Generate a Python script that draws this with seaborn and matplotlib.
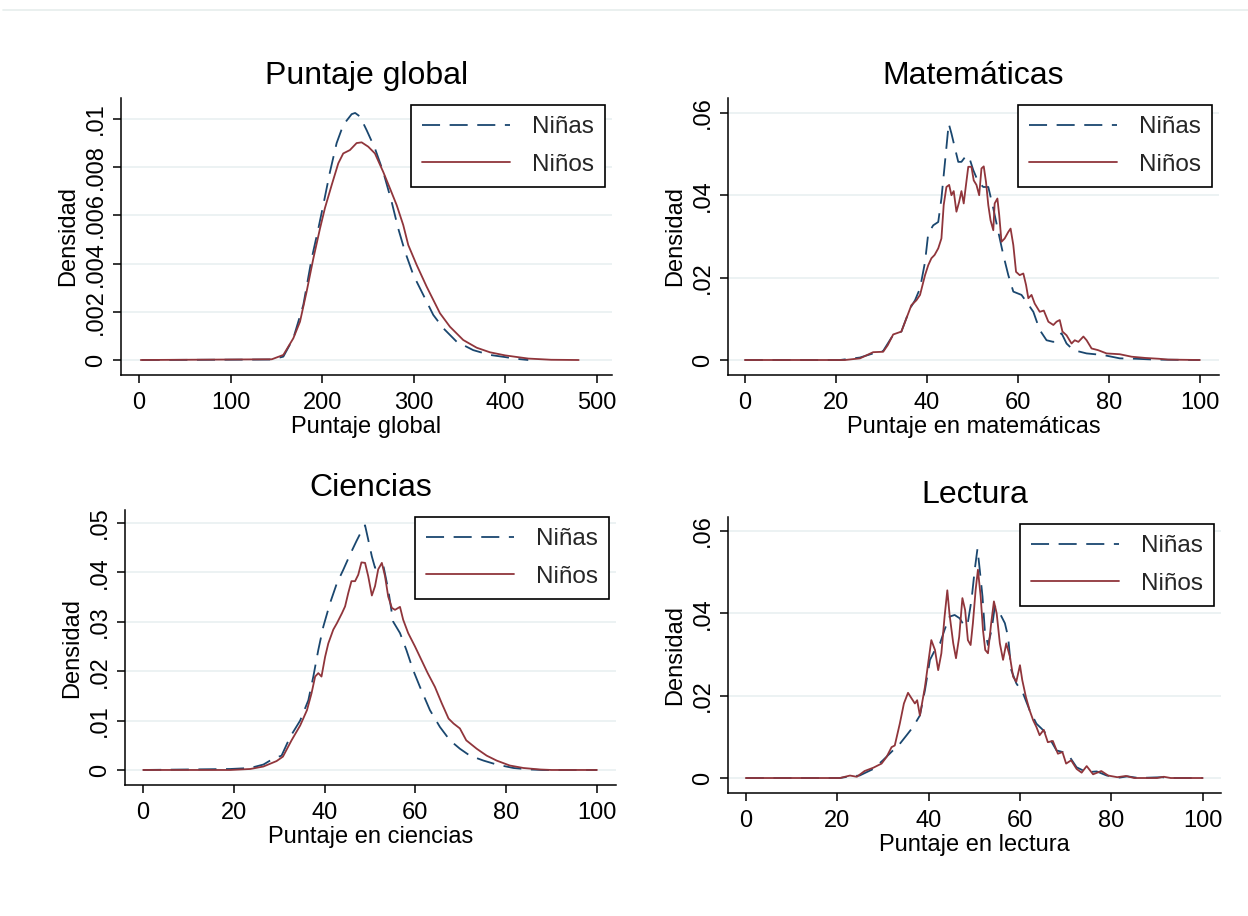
import matplotlib
matplotlib.use("Agg")
import matplotlib.pyplot as plt
import seaborn as sns
from matplotlib.lines import Line2D
from matplotlib.ticker import FixedLocator, FixedFormatter

# ---------------- DATA ----------------
series_labels = ["Niñas", "Niños"]
panel_titles = ["Puntaje global", "Matemáticas", "Ciencias", "Lectura"]
x_labels = ["Puntaje global", "Puntaje en matemáticas", "Puntaje en ciencias", "Puntaje en lectura"]
y_label = "Densidad"

global_xticks = [0, 100, 200, 300, 400, 500]
global_yticks = [0, 0.002, 0.004, 0.006, 0.008, 0.01]
global_ytick_labels = ["0", ".002", ".004", ".006", ".008", ".01"]
pct_xticks = [0, 20, 40, 60, 80, 100]
mat_yticks = [0, 0.02, 0.04, 0.06]
mat_ytick_labels = ["0", ".02", ".04", ".06"]
cie_yticks = [0, 0.01, 0.02, 0.03, 0.04, 0.05]
cie_ytick_labels = ["0", ".01", ".02", ".03", ".04", ".05"]
lec_yticks = [0, 0.02, 0.04, 0.06]
lec_ytick_labels = ["0", ".02", ".04", ".06"]

# Puntaje global
glob_x_ninas = [3, 145, 157.6, 168.5, 179.4, 188.5, 195.8, 201.2, 208.5, 215.8, 223, 232.2, 236, 241.3,
                248.5, 257.6, 266.7, 275.8, 283, 290.4, 299.5, 310.4, 321.3, 332.2, 346.8, 364.9, 383.2,
                400, 412, 425]
glob_y_ninas = [0, 0.00002, 0.00014, 0.0009, 0.00228, 0.0042, 0.00545, 0.00643, 0.0078, 0.0090, 0.00975,
                0.0102, 0.01025, 0.0101, 0.00954, 0.00878, 0.0078, 0.00657, 0.00546, 0.0045, 0.00353,
                0.0027, 0.00187, 0.00132, 0.00076, 0.00041, 0.00021, 0.00012, 0.00005, 0]
glob_x_ninos = [2, 145, 157.6, 168.5, 175.8, 183, 190.3, 197.6, 203, 210.4, 217.6, 223, 230.3, 237.6,
                243.1, 250.3, 257.6, 266.7, 274, 281.3, 288.5, 294, 303.2, 314.1, 328.6, 339.5, 354,
                368.7, 383.2, 400, 425, 450, 480]
glob_y_ninos = [0, 0.00003, 0.00021, 0.0009, 0.00159, 0.00283, 0.0042, 0.00545, 0.0063, 0.00726, 0.00816,
                0.00857, 0.00871, 0.0090, 0.00903, 0.00885, 0.00857, 0.0078, 0.00712, 0.00643, 0.0056,
                0.00477, 0.00394, 0.00304, 0.00194, 0.00138, 0.00083, 0.00051, 0.00032, 0.00019,
                0.00006, 0.00001, 0]

# Matemáticas
mat_x_ninas = [0, 20.9, 25.3, 28.2, 30.4, 32.6, 34.4, 36.3, 37.4, 38.5, 39.6, 40.3, 41.4, 42.5, 43.2,
               44.2, 44.8, 45.4, 46.2, 46.9, 47.6, 48.7, 49.5, 50.2, 51.3, 52.4, 53.5, 54.6, 55.7,
               56.8, 57.9, 59.0, 60.8, 61.9, 63.4, 64.8, 66.3, 67.8, 69.6, 70.7, 72.2, 75.1, 78.8,
               82.4, 86, 90, 100]
mat_y_ninas = [0, 0, 0.0006, 0.0016, 0.0022, 0.0061, 0.0069, 0.0125, 0.0145, 0.0174, 0.0238, 0.0307,
               0.0327, 0.0335, 0.0392, 0.0505, 0.0574, 0.055, 0.0513, 0.0481, 0.0481, 0.0497, 0.0485,
               0.0461, 0.0432, 0.042, 0.042, 0.0368, 0.0311, 0.0255, 0.0206, 0.0166, 0.0158, 0.0141,
               0.0117, 0.0073, 0.0048, 0.0044, 0.0065, 0.004, 0.0024, 0.0016, 0.0012, 0.0004, 0.0003,
               0.0001, 0]
mat_x_ninos = [0, 22, 25.3, 28.2, 30.4, 31.4, 32.6, 34.4, 35.5, 36.6, 37.7, 38.5, 39.6, 40.3, 41.0,
               41.7, 42.5, 43.2, 43.7, 44.3, 44.9, 45.4, 45.9, 46.5, 47.1, 47.6, 48.1, 48.6, 49.1,
               49.8, 50.3, 50.9, 51.5, 52.0, 52.5, 53.0, 53.5, 54.0, 54.6, 54.9, 55.5, 55.9, 56.4,
               57.1, 57.9, 58.4, 59.0, 59.6, 60.4, 61.2, 61.8, 62.3, 63.0, 63.7, 64.8, 65.7, 66.7,
               67.8, 68.5, 69.2, 69.8, 70.7, 71.8, 72.5, 73.3, 74.4, 75.1, 76.2, 77.6, 79.5, 82.4,
               85, 88, 91, 93, 100]
mat_y_ninos = [0, 0, 0.0004, 0.0019, 0.002, 0.0036, 0.0062, 0.0069, 0.0101, 0.0133, 0.0145, 0.0158,
               0.0206, 0.023, 0.0247, 0.0255, 0.0271, 0.0295, 0.0376, 0.042, 0.0425, 0.04, 0.041,
               0.036, 0.0384, 0.041, 0.038, 0.0425, 0.0469, 0.0469, 0.0436, 0.0425, 0.04, 0.0465,
               0.047, 0.0432, 0.0376, 0.0339, 0.0315, 0.038, 0.0392, 0.0352, 0.0287, 0.0295, 0.0311,
               0.0319, 0.0279, 0.0214, 0.0206, 0.021, 0.0182, 0.015, 0.0158, 0.0137, 0.0117, 0.012,
               0.0093, 0.0085, 0.0093, 0.0097, 0.0069, 0.006, 0.004, 0.0048, 0.0044, 0.0057, 0.0048,
               0.0028, 0.0024, 0.0016, 0.0014, 0.0008, 0.0005, 0.0003, 0.0001, 0]

# Ciencias
cie_x_ninas = [0, 19.2, 23.6, 26.5, 28.7, 30.5, 32.4, 34.6, 36.4, 37.5, 38.6, 39.7, 41.2, 42.7, 44.1,
               45.6, 47.0, 48.1, 48.9, 49.6, 50.4, 51.1, 52.2, 52.9, 54.0, 55.1, 56.6, 58.0, 59.5,
               61.0, 63.2, 65.4, 67.6, 69.8, 72.0, 75.0, 77.9, 81.6, 85.2, 88, 100]
cie_y_ninas = [0, 0.0002, 0.0004, 0.0011, 0.0023, 0.0029, 0.0067, 0.01, 0.0141, 0.0189, 0.0243, 0.029,
               0.0338, 0.0378, 0.0405, 0.0436, 0.0463, 0.0483, 0.0495, 0.0466, 0.0432, 0.0409, 0.0414,
               0.0415, 0.0365, 0.030, 0.0277, 0.0243, 0.0202, 0.0168, 0.0121, 0.0087, 0.006, 0.0043,
               0.0029, 0.0019, 0.0011, 0.0004, 0.0001, 0, 0]
cie_x_ninos = [0, 19.2, 23.6, 26.5, 29.4, 30.8, 32.7, 34.6, 36.1, 37.1, 37.9, 38.6, 39.3, 40.1, 40.8,
               41.9, 42.7, 43.8, 44.5, 45.2, 45.9, 46.7, 47.4, 48.1, 48.9, 49.6, 50.4, 51.1, 51.8,
               52.6, 53.3, 54.0, 54.8, 55.5, 56.6, 57.3, 58.4, 59.9, 61.3, 62.7, 64.3, 65.8, 67.3,
               68.4, 69.8, 71.2, 73.5, 75.7, 77.9, 80.8, 83.8, 87.4, 90, 100]
cie_y_ninos = [0, 0, 0.0002, 0.0007, 0.0018, 0.0027, 0.006, 0.009, 0.0121, 0.0155, 0.0189, 0.0196,
               0.0189, 0.0229, 0.0256, 0.0284, 0.0297, 0.0317, 0.0331, 0.0358, 0.0382, 0.0382, 0.0395,
               0.042, 0.0419, 0.0392, 0.0353, 0.0372, 0.0406, 0.0419, 0.0392, 0.0351, 0.0328, 0.0324,
               0.033, 0.0304, 0.0277, 0.025, 0.0223, 0.0196, 0.0168, 0.0135, 0.0104, 0.0094, 0.0084,
               0.006, 0.0043, 0.0029, 0.0019, 0.0009, 0.0004, 0.0001, 0, 0]

# Lectura
lec_x_ninas = [0, 20.6, 22.8, 24.9, 27.9, 30.0, 32.2, 33.7, 35.2, 36.6, 38.1, 39.2, 40.3, 41.4, 42.5,
               43.5, 44.6, 45.7, 46.8, 47.9, 48.6, 49.4, 50.1, 50.7, 51.2, 51.8, 52.3, 53.0, 53.8,
               54.5, 55.6, 56.7, 57.4, 58.1, 59.2, 60.7, 62.1, 63.6, 65.1, 66.5, 68.0, 69.4, 70.9,
               72.4, 74.6, 76.8, 79.0, 81.8, 83.5, 86, 91, 93, 100]
lec_y_ninas = [0, 0, 0.0004, 0.0006, 0.0022, 0.0043, 0.0067, 0.0083, 0.0104, 0.0124, 0.0152, 0.0213,
               0.0287, 0.0311, 0.0327, 0.036, 0.0392, 0.0396, 0.0388, 0.0368, 0.0378, 0.0433, 0.0506,
               0.0557, 0.0506, 0.0441, 0.036, 0.0323, 0.036, 0.0417, 0.04, 0.0376, 0.0343, 0.0262,
               0.023, 0.0205, 0.0165, 0.0132, 0.0116, 0.0096, 0.0067, 0.0063, 0.0051, 0.0026, 0.0014,
               0.0016, 0.0006, 0.0001, 0.0004, 0, 0.0002, 0, 0]
lec_x_ninos = [0, 20.6, 22.8, 24.3, 26.0, 27.9, 29.7, 30.8, 31.9, 32.6, 33.7, 34.6, 35.5, 36.3, 37.0,
               37.5, 38.1, 39.2, 39.9, 40.6, 41.4, 42.1, 42.8, 43.5, 44.1, 44.6, 45.4, 46.0, 46.7,
               47.4, 48.0, 48.6, 49.2, 49.7, 50.3, 50.8, 51.4, 51.9, 52.4, 53.0, 53.7, 54.3, 54.9,
               55.6, 56.3, 57.0, 57.8, 58.5, 59.2, 60.0, 60.5, 61.3, 62.1, 62.9, 63.6, 64.3, 65.2,
               66.1, 67.2, 68.3, 69.3, 70.1, 71.2, 72.4, 73.5, 74.6, 76.0, 77.8, 79.3, 81.3, 83.2,
               85, 90, 91.5, 93, 100]
lec_y_ninos = [0, 0, 0.0006, 0.0003, 0.0017, 0.0025, 0.0035, 0.0051, 0.0075, 0.0079, 0.0132, 0.0181,
               0.0207, 0.0193, 0.0181, 0.0189, 0.0152, 0.0221, 0.0278, 0.0335, 0.0311, 0.0262, 0.0303,
               0.0392, 0.0456, 0.0396, 0.0327, 0.0291, 0.0343, 0.0437, 0.0408, 0.0335, 0.0323, 0.0376,
               0.0457, 0.0506, 0.0441, 0.036, 0.0311, 0.0303, 0.0376, 0.0429, 0.04, 0.0327, 0.0287,
               0.0327, 0.0295, 0.0246, 0.0234, 0.0274, 0.0238, 0.0197, 0.0165, 0.014, 0.0124, 0.0104,
               0.0117, 0.0087, 0.009, 0.0059, 0.0063, 0.0035, 0.0043, 0.0022, 0.0013, 0.0029, 0.0009,
               0.0017, 0.0006, 0.0002, 0.0005, 0, 0, 0.0003, 0, 0]

# ---------------- STYLE ----------------
sns.set_style("white")
plt.rcParams['font.family'] = ['Liberation Sans', 'DejaVu Sans']

NAVY = "#1a476f"
MAROON = "#90353b"
GRID = "#e9f0f1"
W, H = 1248, 916

fig = plt.figure(figsize=(W / 100, H / 100), dpi=100)
fig.patch.set_facecolor("white")

# faint line at the top of the canvas
fig.add_artist(Line2D([3 / W, 1], [1 - 10 / H, 1 - 10 / H], color="#e6eeec", lw=1.2))


def make_axes(left, right, top, bottom):
    return fig.add_axes([left / W, 1 - bottom / H, (right - left) / W, (bottom - top) / H])


panels = [
    dict(box=(121, 612, 98, 375), xlim=(-19.6, 516.4), ylim=(-0.000622, 0.01087),
         xticks=global_xticks, yticks=global_yticks, ylabels=global_ytick_labels,
         data=(glob_x_ninas, glob_y_ninas, glob_x_ninos, glob_y_ninos)),
    dict(box=(728, 1219, 98, 375), xlim=(-3.7, 104.2), ylim=(-0.00364, 0.0636),
         xticks=pct_xticks, yticks=mat_yticks, ylabels=mat_ytick_labels,
         data=(mat_x_ninas, mat_y_ninas, mat_x_ninos, mat_y_ninos)),
    dict(box=(125, 616, 510, 785), xlim=(-4.0, 104.2), ylim=(-0.00304, 0.0526),
         xticks=pct_xticks, yticks=cie_yticks, ylabels=cie_ytick_labels,
         data=(cie_x_ninas, cie_y_ninas, cie_x_ninos, cie_y_ninos)),
    dict(box=(728, 1221, 517, 793), xlim=(-3.9, 104.0), ylim=(-0.00364, 0.0634),
         xticks=pct_xticks, yticks=lec_yticks, ylabels=lec_ytick_labels,
         data=(lec_x_ninas, lec_y_ninas, lec_x_ninos, lec_y_ninos)),
]

FS = 17
for i, p in enumerate(panels):
    ax = make_axes(*p["box"])
    xa, ya, xo, yo = p["data"]
    # gridlines
    for yt in p["yticks"]:
        ax.axhline(yt, color=GRID, lw=1.2, zorder=0)
    sns.lineplot(x=xa, y=ya, ax=ax, color=NAVY, lw=1.3, linestyle=(0, (10, 5.3)),
                 label=series_labels[0], estimator=None, sort=False)
    sns.lineplot(x=xo, y=yo, ax=ax, color=MAROON, lw=1.3, label=series_labels[1],
                 estimator=None, sort=False)
    ax.set_xlim(*p["xlim"])
    ax.set_ylim(*p["ylim"])
    ax.xaxis.set_major_locator(FixedLocator(p["xticks"]))
    ax.xaxis.set_major_formatter(FixedFormatter([str(v) for v in p["xticks"]]))
    ax.yaxis.set_major_locator(FixedLocator(p["yticks"]))
    ax.yaxis.set_major_formatter(FixedFormatter(p["ylabels"]))
    ax.tick_params(axis="both", which="major", direction="out", length=6, width=1.1,
                   color="black", labelsize=FS, labelcolor="black", bottom=True, left=True)
    ax.tick_params(axis="x", pad=6)
    ax.tick_params(axis="y", pad=4, labelrotation=90)
    for lbl in ax.get_yticklabels():
        lbl.set_va("center")
    for side in ("top", "right"):
        ax.spines[side].set_visible(False)
    for side in ("left", "bottom"):
        ax.spines[side].set_color("black")
        ax.spines[side].set_linewidth(1.1)
    ax.set_facecolor("white")
    ax.grid(False)
    ax.set_title(panel_titles[i], fontsize=23, pad=10, color="black")
    ax.set_xlabel(x_labels[i], fontsize=FS, labelpad=2, color="black")
    ax.set_ylabel(y_label, fontsize=FS, labelpad=4, color="black")
    leg = ax.legend(loc="upper right", bbox_to_anchor=(1, 1), borderaxespad=0.3,
                    fontsize=17.5, handlelength=3.6, handletextpad=0.9, borderpad=0.45,
                    labelspacing=0.63, frameon=True, fancybox=False, framealpha=1)
    leg.get_frame().set_edgecolor("black")
    leg.get_frame().set_linewidth(1.2)

fig.savefig("out.png", dpi=100, facecolor="white")
